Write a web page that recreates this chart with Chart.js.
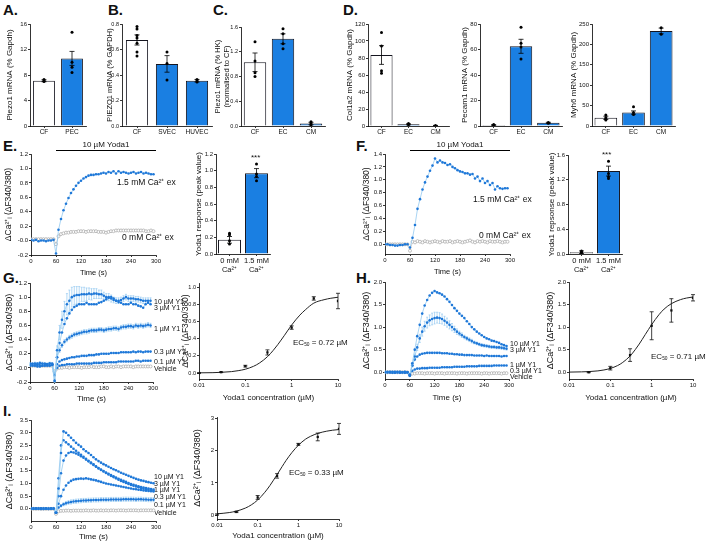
<!DOCTYPE html>
<html lang="en">
<head>
<meta charset="UTF-8">
<title>Piezo1 / Yoda1 figure</title>
<script src="https://cdn.jsdelivr.net/npm/chart.js@4.4.0/dist/chart.umd.min.js"></script>
<style>
  body { margin: 0; background: #fff; }
  #fig { position: relative; width: 713px; height: 542px; overflow: hidden; font-family: 'Liberation Sans', Arial, sans-serif; color: #111; }
  #fig canvas { position: absolute; }
  .lt { position: absolute; font-weight: bold; font-size: 15px; line-height: 15px; }
  .tx { position: absolute; white-space: nowrap; line-height: 1; transform: translateY(-50%); will-change: transform; }
  .s7 { font-size: 7px; }
  .s8 { font-size: 8px; }
  .s85 { font-size: 8.5px; }
  sub { font-size: 0.6em; vertical-align: -0.2em; }
</style>
</head>
<body>
<div id="fig">
  <div class="lt" style="left:3px;top:2px">A.</div>
  <div class="lt" style="left:108px;top:2px">B.</div>
  <div class="lt" style="left:213px;top:2px">C.</div>
  <div class="lt" style="left:343px;top:2px">D.</div>
  <div class="lt" style="left:3px;top:138px">E.</div>
  <div class="lt" style="left:356px;top:138px">F.</div>
  <div class="lt" style="left:3px;top:270px">G.</div>
  <div class="lt" style="left:356px;top:270px">H.</div>
  <div class="lt" style="left:3px;top:403px">I.</div>

  <div class="tx s85" style="left:117px;top:182px">1.5 mM Ca²⁺ ex</div>
  <div class="tx s85" style="left:122px;top:237px">0 mM Ca²⁺ ex</div>
  <div class="tx s8" style="left:251px;top:158px">***</div>

  <div class="tx s85" style="left:473px;top:199px">1.5 mM Ca²⁺ ex</div>
  <div class="tx s85" style="left:479px;top:235px">0 mM Ca²⁺ ex</div>
  <div class="tx s8" style="left:602px;top:155px">***</div>

  <div class="tx s7" style="left:154px;top:301px">10 µM Y1</div>
  <div class="tx s7" style="left:154px;top:306.5px">3 µM Y1</div>
  <div class="tx s7" style="left:154px;top:328px">1 µM Y1</div>
  <div class="tx s7" style="left:154px;top:351px">0.3 µM Y1</div>
  <div class="tx s7" style="left:154px;top:361px">0.1 µM Y1</div>
  <div class="tx s7" style="left:154px;top:367.5px">Vehicle</div>
  <div class="tx s8" style="left:293px;top:343px">EC<sub>50</sub> = 0.72 µM</div>

  <div class="tx s7" style="left:510px;top:343px">10 µM Y1</div>
  <div class="tx s7" style="left:510px;top:349px">3 µM Y1</div>
  <div class="tx s7" style="left:510px;top:363.5px">1 µM Y1</div>
  <div class="tx s7" style="left:510px;top:369.5px">0.3 µM Y1</div>
  <div class="tx s7" style="left:510px;top:376px">Vehicle</div>
  <div class="tx s8" style="left:651px;top:357px">EC<sub>50</sub> = 0.71 µM</div>

  <div class="tx s7" style="left:154px;top:476px">10 µM Y1</div>
  <div class="tx s7" style="left:154px;top:482.5px">3 µM Y1</div>
  <div class="tx s7" style="left:154px;top:489px">1 µM Y1</div>
  <div class="tx s7" style="left:154px;top:496px">0.3 µM Y1</div>
  <div class="tx s7" style="left:154px;top:504px">0.1 µM Y1</div>
  <div class="tx s7" style="left:154px;top:512px">Vehicle</div>
  <div class="tx s8" style="left:289px;top:473px">EC<sub>50</sub> = 0.33 µM</div>
</div>

<script>
// ---- bar data (means, SEM, single experiments) ----
const aCats = ['CF', 'PEC'];
const aMean = [7.1, 10.6];
const aSem = [0.15, 1.1];
const aDots = [[7.3, 7.1, 7.0], [14.7, 10.0, 9.2, 8.4]];

const bCats = ['CF', 'SVEC', 'HUVEC'];
const bMean = [0.675, 0.487, 0.355];
const bSem = [0.04, 0.065, 0.01];
const bDots = [[0.78, 0.76, 0.71, 0.69, 0.65, 0.58, 0.55], [0.58, 0.49, 0.36], [0.365, 0.355, 0.345]];

const cCats = ['CF', 'EC', 'CM'];
const cMean = [1.03, 1.41, 0.04];
const cSem = [0.15, 0.08, 0.02];
const cDots = [[1.36, 1.05, 0.86, 0.8], [1.57, 1.49, 1.33, 1.25], [0.07, 0.04, 0.01]];

const dCats = ['CF', 'EC', 'CM'];
const d1Mean = [83.5, 2.0, 0.5];
const d1Sem = [11, 0.6, 0.2];
const d1Dots = [[110, 94, 65, 62], [2.8, 1.5], [0.5]];
const d2Mean = [0.8, 62.5, 2.5];
const d2Sem = [0.3, 5.5, 0.4];
const d2Dots = [[1.2, 0.6], [77.5, 65, 62, 52.5], [2.8, 2.2]];
const d3Mean = [20, 33, 233];
const d3Sem = [4, 4, 7];
const d3Dots = [[27, 20, 17, 15], [47, 33, 28], [241, 225]];

const caCats = ['0 mM|Ca²⁺', '1.5 mM|Ca²⁺'];
const ePeakMean = [0.17, 0.97];
const ePeakSem = [0.04, 0.055];
const ePeakDots = [[0.25, 0.23, 0.16, 0.12], [1.08, 0.96, 0.93, 0.88]];
const fPeakMean = [0.03, 1.34];
const fPeakSem = [0.02, 0.08];
const fPeakDots = [[0.05, 0.03, 0.02], [1.5, 1.3, 1.25, 1.22]];

// ---- time courses (s) ----
const stimStart = 60, stimEnd = 300;
const tTime = [0,6,12,18,24,30,36,42,48,54,60,66,72,78,84,90,96,102,108,114,120,126,132,138,144,150,156,162,168,174,180,186,192,198,204,210,216,222,228,234,240,246,252,258,264,270,276,282,288,294];

const eCa15 = [0.01,0.00,0.01,-0.01,0.00,0.00,-0.01,0.00,0.00,0.01,
  -0.18,0.15,0.30,0.42,0.51,0.59,0.66,0.71,0.76,0.80,
  0.83,0.86,0.88,0.90,0.91,0.91,0.92,0.92,0.93,0.94,
  0.93,0.95,0.94,0.96,0.93,0.96,0.94,0.95,0.94,0.93,
  0.94,0.95,0.93,0.94,0.95,0.93,0.94,0.93,0.92,0.92];
const eCa0 = [0.02,0.02,0.02,0.02,0.02,0.02,0.02,0.02,0.02,0.02,
  -0.05,0.06,0.09,0.10,0.11,0.11,0.12,0.12,0.12,0.13,
  0.13,0.13,0.12,0.13,0.13,0.13,0.13,0.12,0.12,0.12,
  0.11,0.12,0.13,0.13,0.14,0.14,0.14,0.14,0.14,0.14,
  0.14,0.14,0.14,0.14,0.14,0.14,0.13,0.13,0.14,0.13];

const fCa15 = [0.00,0.00,-0.01,-0.01,-0.02,-0.02,-0.01,-0.01,0.00,0.00,
  -0.05,0.10,0.30,0.55,0.70,0.85,0.96,1.05,1.14,1.22,
  1.33,1.27,1.30,1.27,1.26,1.23,1.24,1.20,1.18,1.15,
  1.13,1.12,1.10,1.10,1.08,1.09,1.02,1.05,0.98,1.02,
  0.95,0.98,0.92,0.95,0.85,0.90,0.87,0.86,0.87,0.87];
const fCa0 = [0.00,0.00,0.00,0.00,0.00,0.00,0.00,0.00,0.00,0.00,
  -0.10,0.04,0.03,0.05,0.04,0.03,0.05,0.04,0.03,0.04,
  0.05,0.04,0.03,0.05,0.04,0.04,0.05,0.03,0.04,0.05,
  0.04,0.03,0.04,0.05,0.06,0.04,0.03,0.05,0.04,0.05,
  0.04,0.03,0.05,0.04,0.04,0.05,0.04,0.03,0.04,0.04];

const g10 = [0.05,0.04,0.06,0.05,0.03,0.06,0.04,0.05,0.06,0.04,
  -0.18,0.25,0.50,0.68,0.80,0.90,0.95,1.00,1.02,1.03,
  1.03,1.04,1.04,1.04,1.05,1.04,1.05,1.05,1.04,1.04,
  1.02,1.00,1.00,0.98,0.96,0.95,0.95,0.96,0.98,1.00,
  0.98,0.98,0.98,0.97,0.97,0.96,0.95,0.95,0.95,0.95];
const g10Err = [0.02,0.02,0.02,0.02,0.02,0.02,0.02,0.02,0.02,0.02,
  0.03,0.06,0.10,0.12,0.14,0.15,0.15,0.14,0.13,0.12,
  0.12,0.10,0.10,0.09,0.08,0.08,0.07,0.07,0.06,0.06,
  0.05,0.05,0.05,0.05,0.04,0.04,0.04,0.04,0.04,0.04,
  0.04,0.04,0.04,0.04,0.04,0.04,0.04,0.04,0.04,0.04];
const g3 = [0.03,0.06,0.04,0.05,0.07,0.03,0.05,0.04,0.06,0.05,
  -0.20,0.15,0.35,0.50,0.62,0.70,0.77,0.82,0.86,0.88,
  0.90,0.90,0.90,0.92,0.90,0.90,0.90,0.90,0.92,0.93,
  0.95,0.97,0.99,1.00,0.98,0.95,0.93,0.92,0.90,0.90,
  0.90,0.92,0.90,0.90,0.88,0.87,0.85,0.90,0.92,0.90];
const g1 = [0.04,0.05,0.03,0.06,0.04,0.05,0.03,0.05,0.04,0.06,
  -0.10,0.15,0.25,0.32,0.37,0.40,0.43,0.45,0.47,0.48,
  0.49,0.50,0.51,0.51,0.52,0.53,0.53,0.53,0.54,0.54,
  0.53,0.54,0.55,0.55,0.56,0.56,0.55,0.57,0.58,0.58,
  0.59,0.59,0.58,0.60,0.59,0.60,0.59,0.60,0.61,0.60];
const g1Err = [0.01,0.01,0.01,0.01,0.01,0.01,0.01,0.01,0.01,0.01,
  0.02,0.03,0.03,0.03,0.03,0.03,0.03,0.03,0.03,0.03,
  0.03,0.03,0.03,0.03,0.03,0.03,0.03,0.03,0.03,0.03,
  0.03,0.03,0.03,0.03,0.03,0.03,0.03,0.03,0.03,0.03,
  0.03,0.03,0.03,0.03,0.03,0.03,0.03,0.03,0.03,0.03];
const g03 = [0.06,0.03,0.05,0.04,0.02,0.05,0.06,0.03,0.04,0.05,
  -0.10,0.05,0.09,0.11,0.12,0.13,0.14,0.15,0.15,0.16,
  0.16,0.17,0.17,0.17,0.18,0.18,0.18,0.19,0.19,0.20,
  0.20,0.20,0.20,0.21,0.21,0.21,0.21,0.22,0.22,0.22,
  0.22,0.22,0.23,0.22,0.23,0.23,0.22,0.23,0.23,0.23];
const g01 = [0.03,0.05,0.04,0.02,0.05,0.03,0.04,0.05,0.03,0.04,
  -0.08,0.00,0.03,0.04,0.04,0.05,0.05,0.05,0.05,0.06,
  0.06,0.06,0.06,0.06,0.06,0.06,0.07,0.07,0.07,0.07,
  0.08,0.08,0.08,0.08,0.08,0.08,0.09,0.09,0.09,0.09,
  0.09,0.09,0.09,0.10,0.10,0.09,0.10,0.10,0.10,0.10];
const gVeh = [0.03,0.03,0.03,0.03,0.03,0.03,0.03,0.03,0.03,0.03,
  -0.05,-0.01,0.00,0.00,0.01,0.01,0.00,0.01,0.01,0.01,
  0.01,0.00,0.01,0.01,0.01,0.02,0.01,0.01,0.01,0.02,
  0.02,0.01,0.01,0.02,0.01,0.02,0.02,0.01,0.02,0.02,
  0.02,0.02,0.01,0.02,0.02,0.02,0.02,0.02,0.02,0.02];

const h10 = [0.00,0.01,0.00,-0.01,0.00,0.01,0.00,0.00,-0.01,0.00,
  -0.05,0.20,0.50,0.80,1.05,1.30,1.48,1.60,1.70,1.76,
  1.80,1.77,1.75,1.72,1.68,1.62,1.56,1.49,1.42,1.36,
  1.30,1.25,1.20,1.13,1.07,1.00,0.95,0.90,0.86,0.82,
  0.78,0.75,0.73,0.70,0.69,0.67,0.65,0.62,0.60,0.58];
const h3 = [0.00,0.00,0.01,0.00,-0.01,0.00,0.01,0.00,0.00,0.00,
  -0.06,0.15,0.35,0.55,0.75,0.90,1.02,1.10,1.15,1.18,
  1.20,1.21,1.20,1.18,1.14,1.10,1.05,1.00,0.95,0.90,
  0.86,0.82,0.78,0.75,0.72,0.69,0.66,0.64,0.62,0.60,
  0.59,0.58,0.57,0.56,0.56,0.55,0.55,0.54,0.53,0.52];
const h3Err = [0.01,0.01,0.01,0.01,0.01,0.01,0.01,0.01,0.01,0.01,
  0.02,0.03,0.05,0.07,0.09,0.10,0.11,0.12,0.12,0.13,
  0.13,0.12,0.12,0.11,0.10,0.10,0.09,0.08,0.07,0.06,
  0.05,0.05,0.04,0.04,0.04,0.04,0.03,0.03,0.03,0.03,
  0.03,0.03,0.03,0.03,0.03,0.03,0.03,0.03,0.03,0.03];
const h1 = [0.01,0.00,0.00,0.01,0.00,0.00,-0.01,0.00,0.01,0.00,
  -0.07,0.15,0.28,0.35,0.39,0.41,0.42,0.43,0.43,0.43,
  0.43,0.43,0.43,0.42,0.42,0.42,0.41,0.41,0.40,0.40,
  0.39,0.39,0.38,0.38,0.38,0.38,0.37,0.37,0.37,0.37,
  0.36,0.37,0.36,0.36,0.36,0.36,0.36,0.35,0.36,0.36];
const h03 = [0.00,0.00,0.00,0.00,0.01,0.00,0.00,0.00,0.00,0.00,
  -0.08,0.03,0.06,0.08,0.08,0.09,0.09,0.09,0.10,0.10,
  0.10,0.10,0.10,0.11,0.11,0.11,0.11,0.11,0.12,0.12,
  0.12,0.12,0.12,0.13,0.13,0.13,0.13,0.13,0.14,0.14,
  0.14,0.14,0.14,0.14,0.15,0.15,0.15,0.15,0.15,0.15];
const hVeh = [0.00,0.00,0.00,0.00,0.00,0.00,0.00,0.00,0.00,0.00,
  -0.06,-0.03,-0.03,-0.02,-0.02,-0.02,-0.03,-0.02,-0.02,-0.02,
  -0.03,-0.02,-0.02,-0.02,-0.03,-0.02,-0.02,-0.02,-0.02,-0.03,
  -0.02,-0.02,-0.02,-0.03,-0.02,-0.02,-0.02,-0.02,-0.02,-0.03,
  -0.02,-0.02,-0.03,-0.02,-0.02,-0.02,-0.02,-0.03,-0.02,-0.02];

const i10 = [0.00,0.01,0.00,0.00,-0.01,0.00,0.01,0.00,0.00,0.00,
  -0.15,0.80,2.20,3.05,3.00,2.90,2.80,2.70,2.60,2.52,
  2.45,2.35,2.27,2.20,2.12,2.03,1.95,1.88,1.82,1.76,
  1.71,1.66,1.61,1.56,1.52,1.47,1.42,1.38,1.34,1.30,
  1.26,1.22,1.18,1.15,1.12,1.10,1.07,1.05,1.03,1.01];
const i3 = [0.00,0.00,0.01,0.00,0.00,-0.01,0.00,0.00,0.01,0.00,
  -0.15,1.20,2.50,2.70,2.62,2.54,2.45,2.37,2.29,2.21,
  2.13,2.05,1.97,1.89,1.82,1.75,1.68,1.61,1.55,1.49,
  1.43,1.38,1.33,1.28,1.23,1.18,1.14,1.10,1.06,1.02,
  0.98,0.95,0.92,0.89,0.86,0.84,0.82,0.80,0.78,0.76];
const i1 = [0.01,0.00,0.00,0.00,0.01,0.00,0.00,-0.01,0.00,0.00,
  -0.15,0.50,1.40,1.90,2.10,2.20,2.24,2.22,2.18,2.13,
  2.07,2.01,1.94,1.87,1.80,1.73,1.66,1.59,1.53,1.47,
  1.41,1.35,1.30,1.25,1.20,1.15,1.10,1.06,1.02,0.98,
  0.94,0.91,0.88,0.85,0.82,0.79,0.77,0.75,0.73,0.71];
const i03 = [0.00,0.00,0.00,0.01,0.00,0.00,0.00,0.00,0.00,0.01,
  -0.15,0.20,0.50,0.75,0.92,1.03,1.10,1.15,1.17,1.18,
  1.19,1.18,1.20,1.18,1.16,1.14,1.12,1.09,1.06,1.03,
  1.00,0.98,0.96,0.94,0.92,0.90,0.88,0.86,0.84,0.82,
  0.80,0.78,0.77,0.75,0.74,0.72,0.71,0.70,0.69,0.68];
const i01 = [0.00,0.00,0.00,0.00,0.00,0.01,0.00,0.00,0.00,0.00,
  -0.15,0.05,0.12,0.18,0.22,0.25,0.27,0.29,0.30,0.31,
  0.32,0.33,0.33,0.34,0.34,0.35,0.35,0.35,0.36,0.36,
  0.36,0.36,0.37,0.37,0.37,0.37,0.37,0.38,0.38,0.38,
  0.38,0.38,0.37,0.38,0.38,0.37,0.37,0.36,0.36,0.36];
const i01Err = [0.02,0.02,0.02,0.02,0.02,0.02,0.02,0.02,0.02,0.02,
  0.03,0.04,0.05,0.06,0.07,0.07,0.08,0.08,0.08,0.08,
  0.08,0.08,0.08,0.08,0.08,0.08,0.08,0.08,0.08,0.08,
  0.08,0.08,0.08,0.08,0.08,0.08,0.08,0.08,0.08,0.08,
  0.08,0.08,0.08,0.08,0.08,0.08,0.08,0.08,0.08,0.08];
const iVeh = [0.00,0.00,0.00,0.00,0.00,0.00,0.00,0.00,0.00,0.00,
  -0.20,-0.10,-0.08,-0.08,-0.07,-0.07,-0.08,-0.07,-0.07,-0.07,
  -0.07,-0.07,-0.06,-0.07,-0.07,-0.06,-0.07,-0.07,-0.06,-0.07,
  -0.06,-0.07,-0.06,-0.06,-0.07,-0.06,-0.06,-0.06,-0.07,-0.06,
  -0.06,-0.06,-0.06,-0.07,-0.06,-0.06,-0.06,-0.06,-0.06,-0.06];

// ---- concentration-response (µM) ----
const concTicks = [0.01, 0.1, 1, 10];
const fitConc = [0.01,0.02,0.03,0.05,0.07,0.1,0.15,0.2,0.3,0.4,0.5,0.7,1,1.5,2,3,5,7,10];
const gConc = [0.01, 0.03, 0.1, 0.3, 1, 3, 10];
const gMean = [0.0, 0.01, 0.08, 0.24, 0.53, 0.87, 0.84];
const gSem = [0.005, 0.005, 0.01, 0.03, 0.02, 0.02, 0.09];
const gFit = [0.002,0.004,0.008,0.016,0.027,0.044,0.078,0.115,0.19,0.264,0.33,0.44,0.56,0.675,0.74,0.815,0.855,0.872,0.884];
const hConc = [0.03, 0.1, 0.3, 1, 3, 10];
const hMean = [0.0, 0.09, 0.38, 1.03, 1.37, 1.65];
const hSem = [0.01, 0.04, 0.14, 0.31, 0.26, 0.07];
const hFit = [0.003,0.008,0.014,0.03,0.05,0.084,0.148,0.218,0.36,0.5,0.625,0.835,1.055,1.275,1.4,1.52,1.61,1.645,1.668];
const iConc = [0.01, 0.03, 0.1, 0.3, 1, 3, 10];
const iMean = [0.02, 0.1, 0.55, 1.22, 2.2, 2.43, 2.68];
const iSem = [0.02, 0.02, 0.06, 0.07, 0.03, 0.12, 0.17];
const iFit = [0.04,0.08,0.125,0.22,0.32,0.47,0.71,0.92,1.26,1.51,1.70,1.95,2.17,2.36,2.45,2.54,2.61,2.64,2.66];

// ---- styling / helpers ----
const FONT = "'Liberation Sans', Arial, sans-serif";
Chart.defaults.font.family = FONT;
Chart.defaults.color = '#111';
Chart.defaults.animation = false;
Chart.defaults.plugins.legend.display = false;
Chart.defaults.plugins.tooltip.enabled = false;

const barBlue = '#1a7fe2', dotBlue = '#1f78d8', lightBlue = '#93c9f0', grey = '#9a9a9a';
const ratioTitle = 'ΔCa²⁺ᵢ (ΔF340/380)';
const fig = document.getElementById('fig');

// plot = [x0, y0, x1, y1] of the plotting box on the page, m = [left, top, right, bottom] room for axes
function panel(plot, m, cfg) {
  const c = document.createElement('canvas');
  const w = plot[2] - plot[0] + m[0] + m[2];
  const h = plot[3] - plot[1] + m[1] + m[3];
  c.width = Math.round(w); c.height = Math.round(h);
  c.style.left = (plot[0] - m[0]) + 'px';
  c.style.top = (plot[1] - m[1]) + 'px';
  c.style.width = Math.round(w) + 'px';
  c.style.height = Math.round(h) + 'px';
  fig.appendChild(c);
  cfg.options.responsive = false;
  cfg.options.layout = { padding: { left: 0, top: m[1], right: m[2], bottom: 0 } };
  cfg.options.scales.x.afterFit = s => { s.height = m[3]; };
  cfg.options.scales.y.afterFit = s => { s.width = m[0]; };
  return new Chart(c, cfg);
}

const gridOpt = { drawOnChartArea: false, tickLength: 2, color: '#000', lineWidth: 0.8 };
const borderOpt = { color: '#000', width: 0.8 };

function yAx(min, max, step, dec, title, ttf, tkf) {
  return {
    type: 'linear', min: min, max: max,
    ticks: { stepSize: step, includeBounds: false, font: { size: tkf || 6 }, padding: 1, color: '#111',
      callback: v => Number(v).toFixed(dec) },
    grid: gridOpt, border: borderOpt,
    title: { display: true, text: title, font: { size: ttf || 8 }, padding: 0, color: '#111' }
  };
}
function catAx(fs) {
  return {
    type: 'category', offset: true,
    ticks: { font: { size: fs }, padding: 0, color: '#111', maxRotation: 0, autoSkip: false,
      callback: function (v) { return this.getLabelForValue(v).split('|'); } },
    grid: Object.assign({ offset: false }, gridOpt), border: borderOpt
  };
}
function timeAx(tf) {
  return {
    type: 'linear', min: 0, max: 300,
    ticks: { stepSize: 60, font: { size: 6 }, padding: 1, color: '#111', maxRotation: 0 },
    grid: gridOpt, border: borderOpt,
    title: { display: true, text: 'Time (s)', font: { size: tf }, padding: 0, color: '#111' }
  };
}
function logAx() {
  return {
    type: 'logarithmic', min: 0.01, max: 10,
    afterBuildTicks: s => { s.ticks = concTicks.map(v => ({ value: v })); },
    ticks: { font: { size: 6 }, padding: 1, color: '#111', maxRotation: 0, autoSkip: false, callback: v => String(v) },
    grid: gridOpt, border: borderOpt,
    title: { display: true, text: 'Yoda1 concentration (µM)', font: { size: 8 }, padding: 0, color: '#111' }
  };
}

function drawErr(chart, sets) {
  const ctx = chart.ctx, xs = chart.scales.x, ys = chart.scales.y;
  ctx.save();
  sets.forEach(s => {
    ctx.strokeStyle = s.color; ctx.lineWidth = s.lw || 0.8;
    ctx.beginPath();
    s.x.forEach((xv, i) => {
      const px = xs.getPixelForValue(xv);
      const p1 = ys.getPixelForValue(s.y[i] + s.e[i]);
      const p2 = ys.getPixelForValue(s.y[i] - s.e[i]);
      ctx.moveTo(px, p1); ctx.lineTo(px, p2);
      if (s.cap) {
        ctx.moveTo(px - s.cap, p1); ctx.lineTo(px + s.cap, p1);
        ctx.moveTo(px - s.cap, p2); ctx.lineTo(px + s.cap, p2);
      }
    });
    ctx.stroke();
  });
  ctx.restore();
}
function errBars(sets, behind) {
  return behind
    ? { id: 'errBehind', beforeDatasetsDraw(chart) { drawErr(chart, sets); } }
    : { id: 'errFront', afterDatasetsDraw(chart) { drawErr(chart, sets); } };
}
function stimBar(label) {
  return { id: 'stim', afterDraw(chart) {
    const ctx = chart.ctx, xs = chart.scales.x;
    const x1 = xs.getPixelForValue(stimStart), x2 = xs.getPixelForValue(stimEnd);
    const y = Math.round(chart.chartArea.top - 4) + 0.5;
    ctx.save();
    ctx.strokeStyle = '#000'; ctx.lineWidth = 1;
    ctx.beginPath(); ctx.moveTo(x1, y); ctx.lineTo(x2, y); ctx.stroke();
    ctx.fillStyle = '#111'; ctx.font = '8px ' + FONT;
    ctx.textAlign = 'center'; ctx.textBaseline = 'bottom';
    ctx.fillText(label, (x1 + x2) / 2, y - 1.5);
    ctx.restore();
  }};
}

function barPanel(plot, m, cats, mean, sem, dots, fills, yAxis, bp, fs) {
  const pts = [];
  cats.forEach((c, i) => dots[i].forEach(v => pts.push({ x: c, y: v })));
  return panel(plot, m, {
    type: 'bar',
    data: { labels: cats, datasets: [
      { type: 'line', data: pts, showLine: false, pointRadius: 1.5, pointBackgroundColor: '#000', pointBorderWidth: 0 },
      { data: mean, backgroundColor: fills, borderColor: '#15151f', borderWidth: 1,
        barPercentage: bp, categoryPercentage: 1 }
    ]},
    options: { scales: { x: catAx(fs || 6.5), y: yAxis } },
    plugins: [errBars([{ x: cats.map((c, i) => i), y: mean, e: sem, color: '#000', cap: 2.5 }])]
  });
}

function tcSet(vals, isGrey) {
  return {
    data: tTime.map((t, i) => ({ x: t, y: vals[i] })),
    borderColor: isGrey ? '#c9c9c9' : lightBlue, borderWidth: 0.8,
    pointRadius: isGrey ? 1.5 : 1.3,
    pointBackgroundColor: isGrey ? '#fff' : dotBlue,
    pointBorderColor: isGrey ? grey : dotBlue,
    pointBorderWidth: isGrey ? 0.6 : 0
  };
}
function tcPanel(plot, m, blues, greyVals, yAxis, errSets, tf, extra) {
  const ds = blues.map(v => tcSet(v, false));
  ds.push(tcSet(greyVals, true));
  const plugins = [];
  if (errSets.length) plugins.push(errBars(errSets.map(s => ({ x: tTime, y: s[0], e: s[1], color: lightBlue, cap: 1, lw: 0.7 })), true));
  if (extra) plugins.push(extra);
  return panel(plot, m, {
    type: 'line',
    data: { datasets: ds },
    options: { scales: { x: timeAx(tf), y: yAxis } },
    plugins: plugins
  });
}

function drPanel(plot, m, conc, mean, sem, fit, yAxis) {
  return panel(plot, m, {
    type: 'line',
    data: { datasets: [
      { data: conc.map((c, i) => ({ x: c, y: mean[i] })), showLine: false, pointStyle: 'rect',
        pointRadius: 1.6, pointBackgroundColor: '#111', pointBorderWidth: 0 },
      { data: fitConc.map((c, i) => ({ x: c, y: fit[i] })), borderColor: '#222', borderWidth: 1,
        pointRadius: 0, cubicInterpolationMode: 'monotone' }
    ]},
    options: { scales: { x: logAx(), y: yAxis } },
    plugins: [errBars([{ x: conc, y: mean, e: sem, color: '#111', cap: 2 }])]
  });
}

// ---- top row ----
barPanel([30, 24, 86, 126], [25, 8, 6, 12], aCats, aMean, aSem, aDots, ['#fff', barBlue],
  yAx(0, 16, 4, 0, 'Piezo1 mRNA (% Gapdh)'), 0.78);
barPanel([122, 24, 212, 126], [17, 8, 6, 12], bCats, bMean, bSem, bDots, ['#fff', barBlue, barBlue],
  yAx(0, 0.8, 0.2, 1, 'PIEZO1 mRNA (% GAPDH)', 7.5, 5.5), 0.74);
barPanel([241, 27, 325, 126], [28, 8, 6, 12], cCats, cMean, cSem, cDots, ['#fff', barBlue, barBlue],
  yAx(0, 1.6, 0.4, 1, ['Piezo1 mRNA (% HK)', '(normalised to CF)'], 7.5, 5.5), 0.8);
barPanel([368, 24, 449, 126], [23, 8, 6, 12], dCats, d1Mean, d1Sem, d1Dots, ['#fff', barBlue, barBlue],
  yAx(0, 120, 20, 0, 'Col1a2 mRNA (% Gapdh)'), 0.82);
barPanel([480, 24, 562, 126], [20, 8, 6, 12], dCats, d2Mean, d2Sem, d2Dots, ['#fff', barBlue, barBlue],
  yAx(0, 80, 20, 0, 'Pecam1 mRNA (% Gapdh)'), 0.82);
barPanel([592, 24, 675, 126], [23, 8, 8, 12], dCats, d3Mean, d3Sem, d3Dots, ['#fff', barBlue, barBlue],
  yAx(0, 250, 50, 0, 'Myh6 mRNA (% Gapdh)'), 0.82);

// ---- E / F ----
tcPanel([31, 154, 156, 255], [27, 18, 10, 22], [eCa15], eCa0,
  yAx(-0.2, 1.2, 0.2, 1, ratioTitle, 8.5), [], 7.5, stimBar('10 µM Yoda1'));
barPanel([216, 154, 270, 254], [22, 8, 6, 22], caCats, ePeakMean, ePeakSem, ePeakDots, ['#fff', barBlue],
  yAx(0, 1.2, 0.2, 1, 'Yoda1 response (peak value)'), 0.85, 7.5);
tcPanel([385, 154.3, 510, 254.7], [23, 18, 10, 22], [fCa15], fCa0,
  yAx(-0.15, 1.4, 0.2, 1, ratioTitle, 8.5), [], 7.5, stimBar('10 µM Yoda1'));
barPanel([568, 155, 622, 254], [21, 8, 6, 22], caCats, fPeakMean, fPeakSem, fPeakDots, ['#a6a6a6', barBlue],
  yAx(0, 1.6, 0.4, 1, 'Yoda1 repsonse (peak value)'), 0.85, 7.5);

// ---- G / H / I ----
tcPanel([30, 283, 153, 382], [26, 6, 8, 22], [g10, g3, g1, g03, g01], gVeh,
  yAx(-0.2, 1.2, 0.2, 1, ratioTitle, 9), [[g10, g10Err], [g1, g1Err]], 8);
drPanel([199, 283.3, 338, 379.5], [18, 6, 8, 24], gConc, gMean, gSem, gFit,
  yAx(-0.07, 1.05, 0.2, 1, ratioTitle, 8.5, 5.5));

tcPanel([385, 281.7, 509, 379.1], [24, 6, 8, 24], [h10, h3, h1, h03], hVeh,
  yAx(-0.15, 2.0, 0.5, 1, ratioTitle, 9), [[h3, h3Err]], 8);
drPanel([569, 281.7, 693, 379.1], [24, 6, 8, 24], hConc, hMean, hSem, hFit,
  yAx(-0.15, 2.0, 0.5, 1, ratioTitle, 9));

tcPanel([31, 420, 156, 521], [27, 6, 8, 21], [i10, i3, i1, i03, i01], iVeh,
  yAx(-0.48, 3.5, 0.5, 1, ratioTitle, 9), [[i01, i01Err]], 8);
drPanel([216.7, 416.7, 338.3, 518.2], [25, 6, 8, 22], iConc, iMean, iSem, iFit,
  yAx(-0.12, 3.05, 1, 0, ratioTitle, 9));
</script>
</body>
</html>
